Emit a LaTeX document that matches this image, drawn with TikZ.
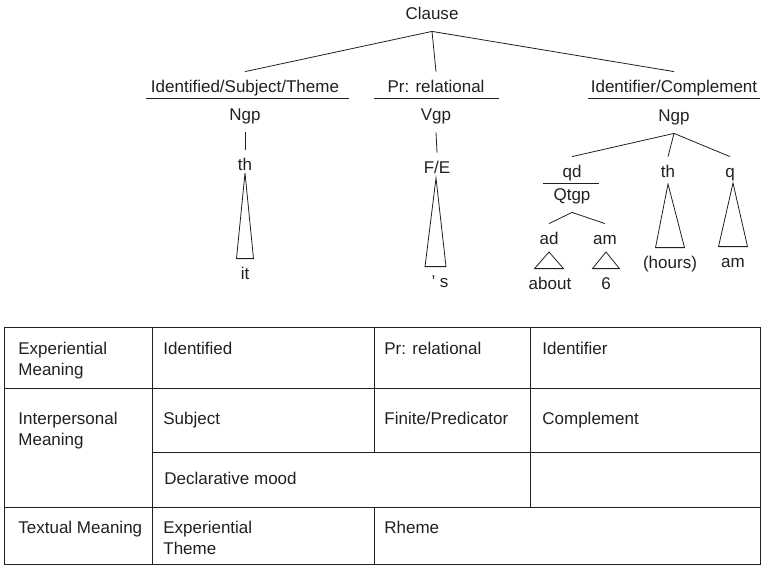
\documentclass[tikz,border=0pt]{standalone}
\usepackage{fontspec}
\setmainfont{Liberation Sans}
\usetikzlibrary{calc}
\definecolor{ink}{RGB}{35,31,32}

\begin{document}
\begin{tikzpicture}[x=1pt, y=-1pt, line width=0.8pt, color=ink,
    lab/.style={anchor=base, inner xsep=1pt, inner ysep=8pt, text height=12pt, text depth=4pt, font=\fontsize{17}{20}\selectfont},
    cell/.style={anchor=north west, inner sep=0pt, align=left, font=\fontsize{17}{21}\selectfont}]
    \useasboundingbox (0,0) rectangle (762,566);

    % Top of the tree
    \node[lab] (clause) at (432,19) {Clause};
    \node[lab] (idf) at (245,92) {Identified/Subject/Theme};
    \node[lab] (ngpa) at (245,120) {Ngp};
    \node[lab] (pr) at (436,92) {Pr: relational};
    \node[lab] (vgp) at (436,120) {Vgp};
    \node[lab] (idr) at (674,92) {Identifier/Complement};
    \node[lab] (ngpb) at (674,121) {Ngp};

    \draw (clause.south) -- (idf.north);
    \draw (clause.south) -- (pr.north);
    \draw (clause.south) -- (idr.north);

    % Function / class rules
    \draw (146,98) -- (349,98);
    \draw (374,98) -- (499,98);
    \draw (588,98) -- (760,98);

    % Left branch
    \node[lab] (tha) at (245,170) {th};
    \node[lab] (it) at (245,279) {it};
    \draw (ngpa.south) -- (tha.north);
    \draw ($(tha.base)+(0,3)$) -- ($(tha.base |- it.north)+(-8.5,0)$) -- ($(tha.base |- it.north)+(8.5,0)$) -- cycle;

    % Middle branch
    \node[lab] (fe) at (437,173) {F/E};
    \node[lab] (sq) at (440,287) {’ s};
    \draw (vgp.south) -- (fe.north);
    \draw ($(fe.base)+(-1,5)$) -- ($(fe.base |- sq.north)+(-12,0)$) -- ($(fe.base |- sq.north)+(9,0)$) -- cycle;

    % Right branch
    \node[lab] (qd) at (572,177) {qd};
    \node[lab] (qtgp) at (572,200) {Qtgp};
    \node[lab] (thb) at (668,177) {th};
    \node[lab] (q) at (730,177) {q};
    \draw (ngpb.south) -- (qd.north);
    \draw (ngpb.south) -- (thb.north);
    \draw (ngpb.south) -- (q.north);
    \draw (543,183) -- (599,183);

    \node[lab] (ad) at (549,244) {ad};
    \node[lab] (ama) at (605,244) {am};
    \node[lab] (about) at (550,289) {about};
    \node[lab] (six) at (606,289) {6};
    \draw (qtgp.south) -- (ad.north);
    \draw (qtgp.south) -- (ama.north);
    \draw ($(ad.base)+(0,8)$) -- ($(ad.base |- about.north)+(-14.5,0)$) -- ($(ad.base |- about.north)+(14.5,0)$) -- cycle;
    \draw ($(ama.base)+(1,8)$) -- ($(ama.base |- six.north)+(-12.5,0)$) -- ($(ama.base |- six.north)+(14.5,0)$) -- cycle;

    \node[lab] (hours) at (670,268) {(hours)};
    \node[lab] (amb) at (733,267) {am};
    \draw ($(thb.base)+(0,7)$) -- ($(thb.base |- hours.north)+(-12.5,0)$) -- ($(thb.base |- hours.north)+(16.5,0)$) -- cycle;
    \draw ($(amb.base |- q.base)+(0,6)$) -- ($(amb.north)+(-14.5,0)$) -- ($(amb.north)+(14.5,0)$) -- cycle;

    % Table
    \begin{scope}[line width=0.9pt]
        \draw (4,327) rectangle (760,564);
        \draw (4,388) -- (760,388);
        \draw (152,452) -- (760,452);
        \draw (4,507) -- (760,507);
        \draw (152,327) -- (152,564);
        \draw (374,327) -- (374,452);
        \draw (374,507) -- (374,564);
        \draw (530,327) -- (530,507);
    \end{scope}

    \node[cell] (expm) at (18,341.5) {Experiential\\Meaning};
    \node[cell] (expa) at (163,341.5) {Identified};
    \node[cell] (expb) at (384,341.5) {Pr: relational};
    \node[cell] (expc) at (542,341.5) {Identifier};

    \node[cell] (intm) at (18,411.5) {Interpersonal\\Meaning};
    \node[cell] (inta) at (163,411.5) {Subject};
    \node[cell] (intb) at (384,411.5) {Finite/Predicator};
    \node[cell] (intc) at (542,411.5) {Complement};
    \node[cell] (mood) at (164,471.5) {Declarative mood};

    \node[cell] (txtm) at (18,520.5) {Textual Meaning};
    \node[cell] (txta) at (163,520.5) {Experiential\\Theme};
    \node[cell] (txtb) at (384,520.5) {Rheme};
\end{tikzpicture}
\end{document}
